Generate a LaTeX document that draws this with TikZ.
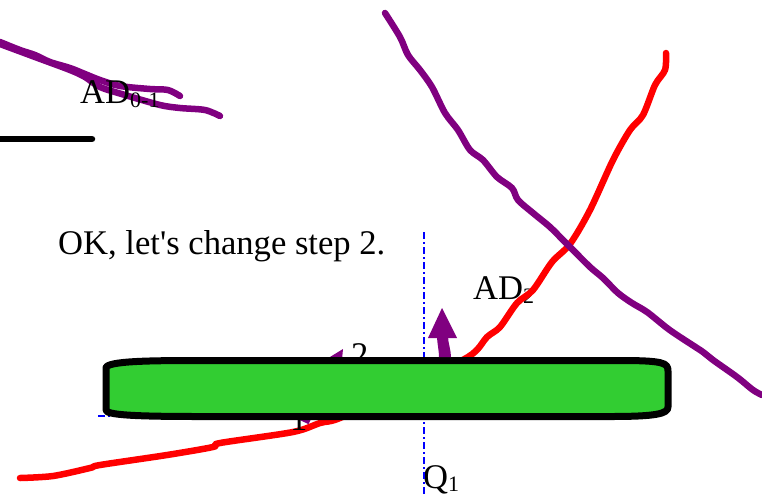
\documentclass[tikz,border=0pt]{standalone}
\usepackage{fontspec}
\setmainfont{Liberation Serif}
\definecolor{purpleC}{RGB}{128,0,128}
\definecolor{barGreen}{RGB}{50,205,50}
\newcommand{\sbs}[2][4.5pt]{\raisebox{-#1}{\fontsize{22}{24}\selectfont #2}}
\begin{document}
\begin{tikzpicture}[x=1pt,y=-1pt, line cap=round, line join=round,
  purp/.style={draw=purpleC, line width=6.5pt},
  redl/.style={draw=red, line width=6.5pt},
  lbl/.style={anchor=base west, inner sep=0pt, font=\fontsize{34.6}{40}\selectfont},
  guide/.style={draw=blue, line width=1.4pt, line cap=butt, dash pattern=on 7pt off 3pt on 2pt off 3pt},
  barstyle/.style={draw=black, line width=7pt, fill=barGreen}]
\useasboundingbox (0,0) rectangle (762,496);

% black short line
\coordinate (bl1) at (0,139);
\coordinate (bl2) at (92,139);
\draw[line width=6.5pt] (bl1) -- (bl2);

% purple strokes top-left
\draw[purp] plot[smooth, tension=0.5] coordinates {(0,42) (20,50) (35,55) (50,62) (70,68) (85,74) (100,80) (120,86) (150,89) (168,90) (180,96)};
\draw[purp] plot[smooth, tension=0.5] coordinates {(0,44) (35,57) (70,70) (85,77) (100,87) (125,95) (160,105) (180,108) (205,110) (220,116)};

% texts
\node[lbl] (ad01) at (80,103) {AD\sbs{0-1}};
\node[lbl] (ok) at (58,254) {OK, let\textquotesingle s change step 2.};
\node[lbl] (ad2) at (473,299) {AD\sbs{2}};
\node[lbl] (q1) at (423,488) {Q\sbs[3.5pt]{1}};

% blue guides
\coordinate (gv1) at (424,232);
\coordinate (gv2) at (424,496);
\coordinate (gh1) at (98,416);
\coordinate (gh2) at (424,416);
\draw[guide] (gv1) -- (gv2);
\draw[guide] (gh1) -- (gh2);

% red stroke
\draw[redl] plot[smooth, tension=0.5] coordinates {(20,478) (53,476) (90,468) (100,465) (167,455) (213,447) (220,443) (293,432) (320,423) (340,418) (400,390) (468,357) (487,337) (500,327) (517,303) (533,290) (552,262) (570,244) (590,210) (613,160) (630,130) (643,115) (655,85) (665,70) (666,53)};

% purple long stroke
\draw[purp] plot[smooth, tension=0.5] coordinates {(385,13) (400,37) (408,55) (420,70) (432,87) (445,113) (458,130) (470,150) (483,160) (497,177) (512,188) (518,200) (533,213) (550,227) (563,240) (570,247) (590,267) (603,278) (618,293) (632,303) (647,312) (667,328) (680,337) (703,352) (713,360) (737,377) (753,390) (762,395)};

% lower purple arrow (mostly behind the bar)
\coordinate (la1) at (304,422);
\coordinate (la2) at (327.6,373.7);
\draw[draw=purpleC, line width=10pt, line cap=butt] (la1) -- (la2);
\fill[purpleC] (343,349) -- (339.9,381.4) -- (315.3,366) -- cycle;

% labels 1 and 2 (partly hidden by bar)
\node[lbl] (n2) at (351,366) {2};
\node[lbl] (n1) at (290,430) {1};

% green bar
\draw[barstyle] (106,368) .. controls (106,361) and (150,360.5) .. (200,360.5)
  -- (620,360.5) .. controls (664,360.5) and (668,363) .. (668,371)
  -- (668,407) .. controls (668,414) and (655,416.5) .. (610,416.5)
  -- (200,416.5) .. controls (135,416.5) and (106,415) .. (106,410) -- cycle;

% upward purple arrow
\fill[purpleC] (439,357) .. controls (439,350) and (437,343) .. (437,336)
  -- (448,336) .. controls (448,343) and (451,350) .. (451,357) -- cycle;
\fill[purpleC] (442,308) -- (457,338) -- (428,338) -- cycle;
\end{tikzpicture}
\end{document}
